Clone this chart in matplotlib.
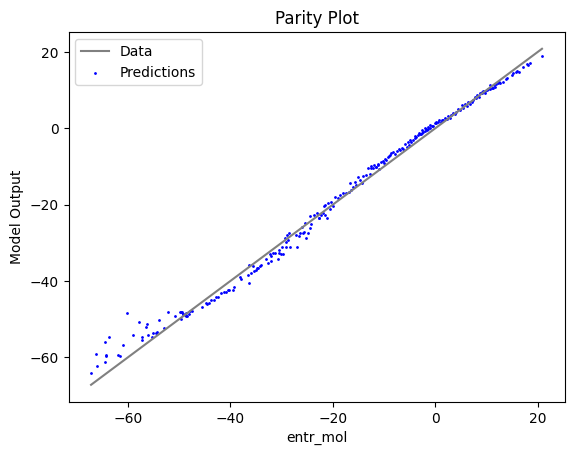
import matplotlib
matplotlib.use("Agg")
import matplotlib.pyplot as plt

# true values (x) and model predictions (y)
entr_mol = [
    -67.2, -66.1, -66.3, -64.4, -64.3, -64.2, -64.4, -63.7, -60.1, -61.9,
    -61.6, -61.0, -59.0, -57.9, -56.3, -56.5, -57.3, -57.3, -56.0, -55.1,
    -55.4, -54.6, -54.3, -54.0, -53.0, -52.2, -50.8, -49.9, -49.5, -49.3,
    -49.7, -48.5, -48.1, -47.8, -48.7,
    -49.6, -49.3, -48.9, -48.7, -47.6, -45.5, -44.8, -44.6, -44.2, -43.8,
    -43.3, -42.8, -42.4, -41.8, -41.3, -40.9, -40.5, -40.2, -39.5, -39.4,
    -38.2, -37.9, -36.4, -36.6, -35.9, -35.5, -35.1, -34.8, -36.3,
    -35.6, -34.6, -34.2, -34.0, -33.0, -32.7, -32.0, -32.0, -32.3, -31.7,
    -31.4, -30.7, -30.5, -30.1, -29.7, -30.5, -29.9, -29.1, -28.4, -27.1,
    -29.1, -28.8, -29.4, -29.0, -28.6, -27.2, -26.6, -26.4, -25.9, -25.6,
    -25.2, -24.9, -24.5, -25.5, -26.0, -24.2, -24.5, -23.6, -23.1, -22.8,
    -22.7, -22.4, -21.9, -21.6, -21.2, -21.8, -21.6, -20.6, -20.0, -20.9,
    -20.3, -19.6, -19.0, -18.7, -18.0, -17.4, -16.9, -16.4, -16.7, -16.1,
    -15.7, -15.4, -15.1, -14.8, -14.4, -14.1, -13.5, -12.8, -12.5, -12.0,
    -11.6, -11.2, -11.0,
    -13.1, -12.5, -12.2, -11.6, -11.2, -10.7, -10.3, -10.1, -9.7, -9.3,
    -8.9, -8.6, -8.3, -7.9, -7.5, -7.0, -6.6, -6.3, -5.6, -5.1,
    -4.7, -4.4, -4.0, -3.7, -3.4, -3.0, -2.7, -2.4, -2.1, -1.7,
    -1.4, -1.1, -0.6, -0.1, 0.2, 0.7,
    -9.9, -9.0, -7.2, -6.0, -5.3, -4.9, -3.9, -3.2, -2.9, -1.9,
    -2.7, -2.1, -1.4, -1.1, -0.4, 0.2, 0.5, 1.0, 1.5, 2.2,
    2.8, 3.1, 3.8, 4.1, 4.8, 5.1, 5.4, 6.1, 6.7, 7.1,
    7.4, 8.0, 8.5, 9.0, 9.3, 9.6, 10.0, 10.6, 11.0, 11.4,
    11.9, 12.4,
    1.2, 1.9, 2.5, 3.4, 4.4, 5.8, 6.4, 7.7, 8.2, 8.8,
    9.0, 9.6, 10.3, 10.6, 11.2, 11.6, 12.3, 12.6, 13.2, 13.8,
    14.0, 14.9, 15.2, 15.7, 16.0, 16.3, 17.1, 17.8, 18.1, 18.4,
    20.8,
]

model_output = [
    -64.1, -62.3, -59.1, -61.2, -59.3, -59.7, -56.0, -54.7, -48.4, -59.4,
    -59.7, -56.8, -54.2, -50.8, -51.3, -52.1, -54.8, -55.5, -54.2, -53.7,
    -54.7, -53.7, -53.4, -50.3, -52.2, -48.2, -49.2, -48.2, -48.2, -48.7,
    -49.9, -49.1, -48.7, -48.0, -48.4,
    -48.2, -48.6, -48.9, -49.3, -47.8, -46.9, -45.8, -46.1, -45.7, -45.1,
    -44.9, -44.3, -44.2, -43.2, -43.0, -42.8, -42.5, -42.3, -42.3, -41.6,
    -39.0, -39.5, -40.6, -38.4, -38.0, -37.3, -37.1, -36.7, -35.8,
    -36.2, -36.7, -36.2, -35.8, -34.3, -35.3, -34.9, -33.6, -33.0, -32.7,
    -32.6, -34.3, -32.7, -32.9, -33.0, -32.0, -31.0, -31.0, -31.0, -31.0,
    -29.7, -29.2, -28.8, -27.9, -27.5, -27.9, -28.2, -27.5, -27.5, -27.3,
    -28.8, -27.5, -26.2, -24.7, -25.8, -25.1, -23.0, -22.7, -22.3, -23.6,
    -23.4, -22.7, -22.1, -22.7, -23.6, -20.5, -20.1, -21.2, -20.5, -19.6,
    -19.2, -17.9, -18.3, -17.5, -17.0, -16.9, -16.6, -16.2, -14.4, -15.3,
    -14.0, -14.8, -12.7, -13.5, -14.4, -12.5, -12.2, -12.0, -10.5, -9.6,
    -10.1, -9.6, -10.7,
    -10.3, -9.8, -10.5, -10.1, -9.4, -8.9, -8.6, -9.2, -8.3, -7.6,
    -7.0, -6.5, -6.3, -6.8, -6.1, -5.7, -5.1, -5.4, -4.8, -4.4,
    -3.5, -3.1, -2.6, -2.2, -1.9, -1.6, -1.3, -1.0, -0.7, -0.4,
    -0.2, 0.0, 0.7, 1.3, 1.7, 2.2,
    -8.0, -7.4, -5.4, -4.2, -3.7, -3.0, -2.0, -1.3, -1.6, -0.3,
    -0.4, 0.0, 0.2, 0.9, 0.7, 1.3, 1.7, 1.6, 2.2, 2.4,
    2.8, 3.5, 3.7, 4.2, 4.8, 6.1, 5.4, 5.9, 6.3, 6.8,
    7.4, 7.9, 8.3, 9.4, 9.8, 9.2, 10.0, 10.3, 10.6, 11.2,
    11.5, 12.2,
    2.1, 2.6, 3.2, 4.0, 4.9, 6.3, 6.9, 8.1, 8.6, 9.1,
    9.2, 9.8, 10.2, 11.3, 10.5, 10.9, 11.8, 11.9, 12.2, 12.8,
    13.1, 14.0, 14.4, 14.8, 15.1, 14.8, 16.1, 16.8, 16.6, 17.0,
    18.9,
]

fig = plt.figure(figsize=(6.4, 4.8), dpi=100)
true_sorted = sorted(entr_mol)
plt.plot(true_sorted, true_sorted, color='gray', label='Data')
plt.scatter(entr_mol, model_output, s=1, color='blue', label='Predictions')
plt.xlabel('entr_mol')
plt.ylabel('Model Output')
plt.title('Parity Plot')
plt.legend(loc='upper left')
plt.savefig('out.png', bbox_inches='tight')
